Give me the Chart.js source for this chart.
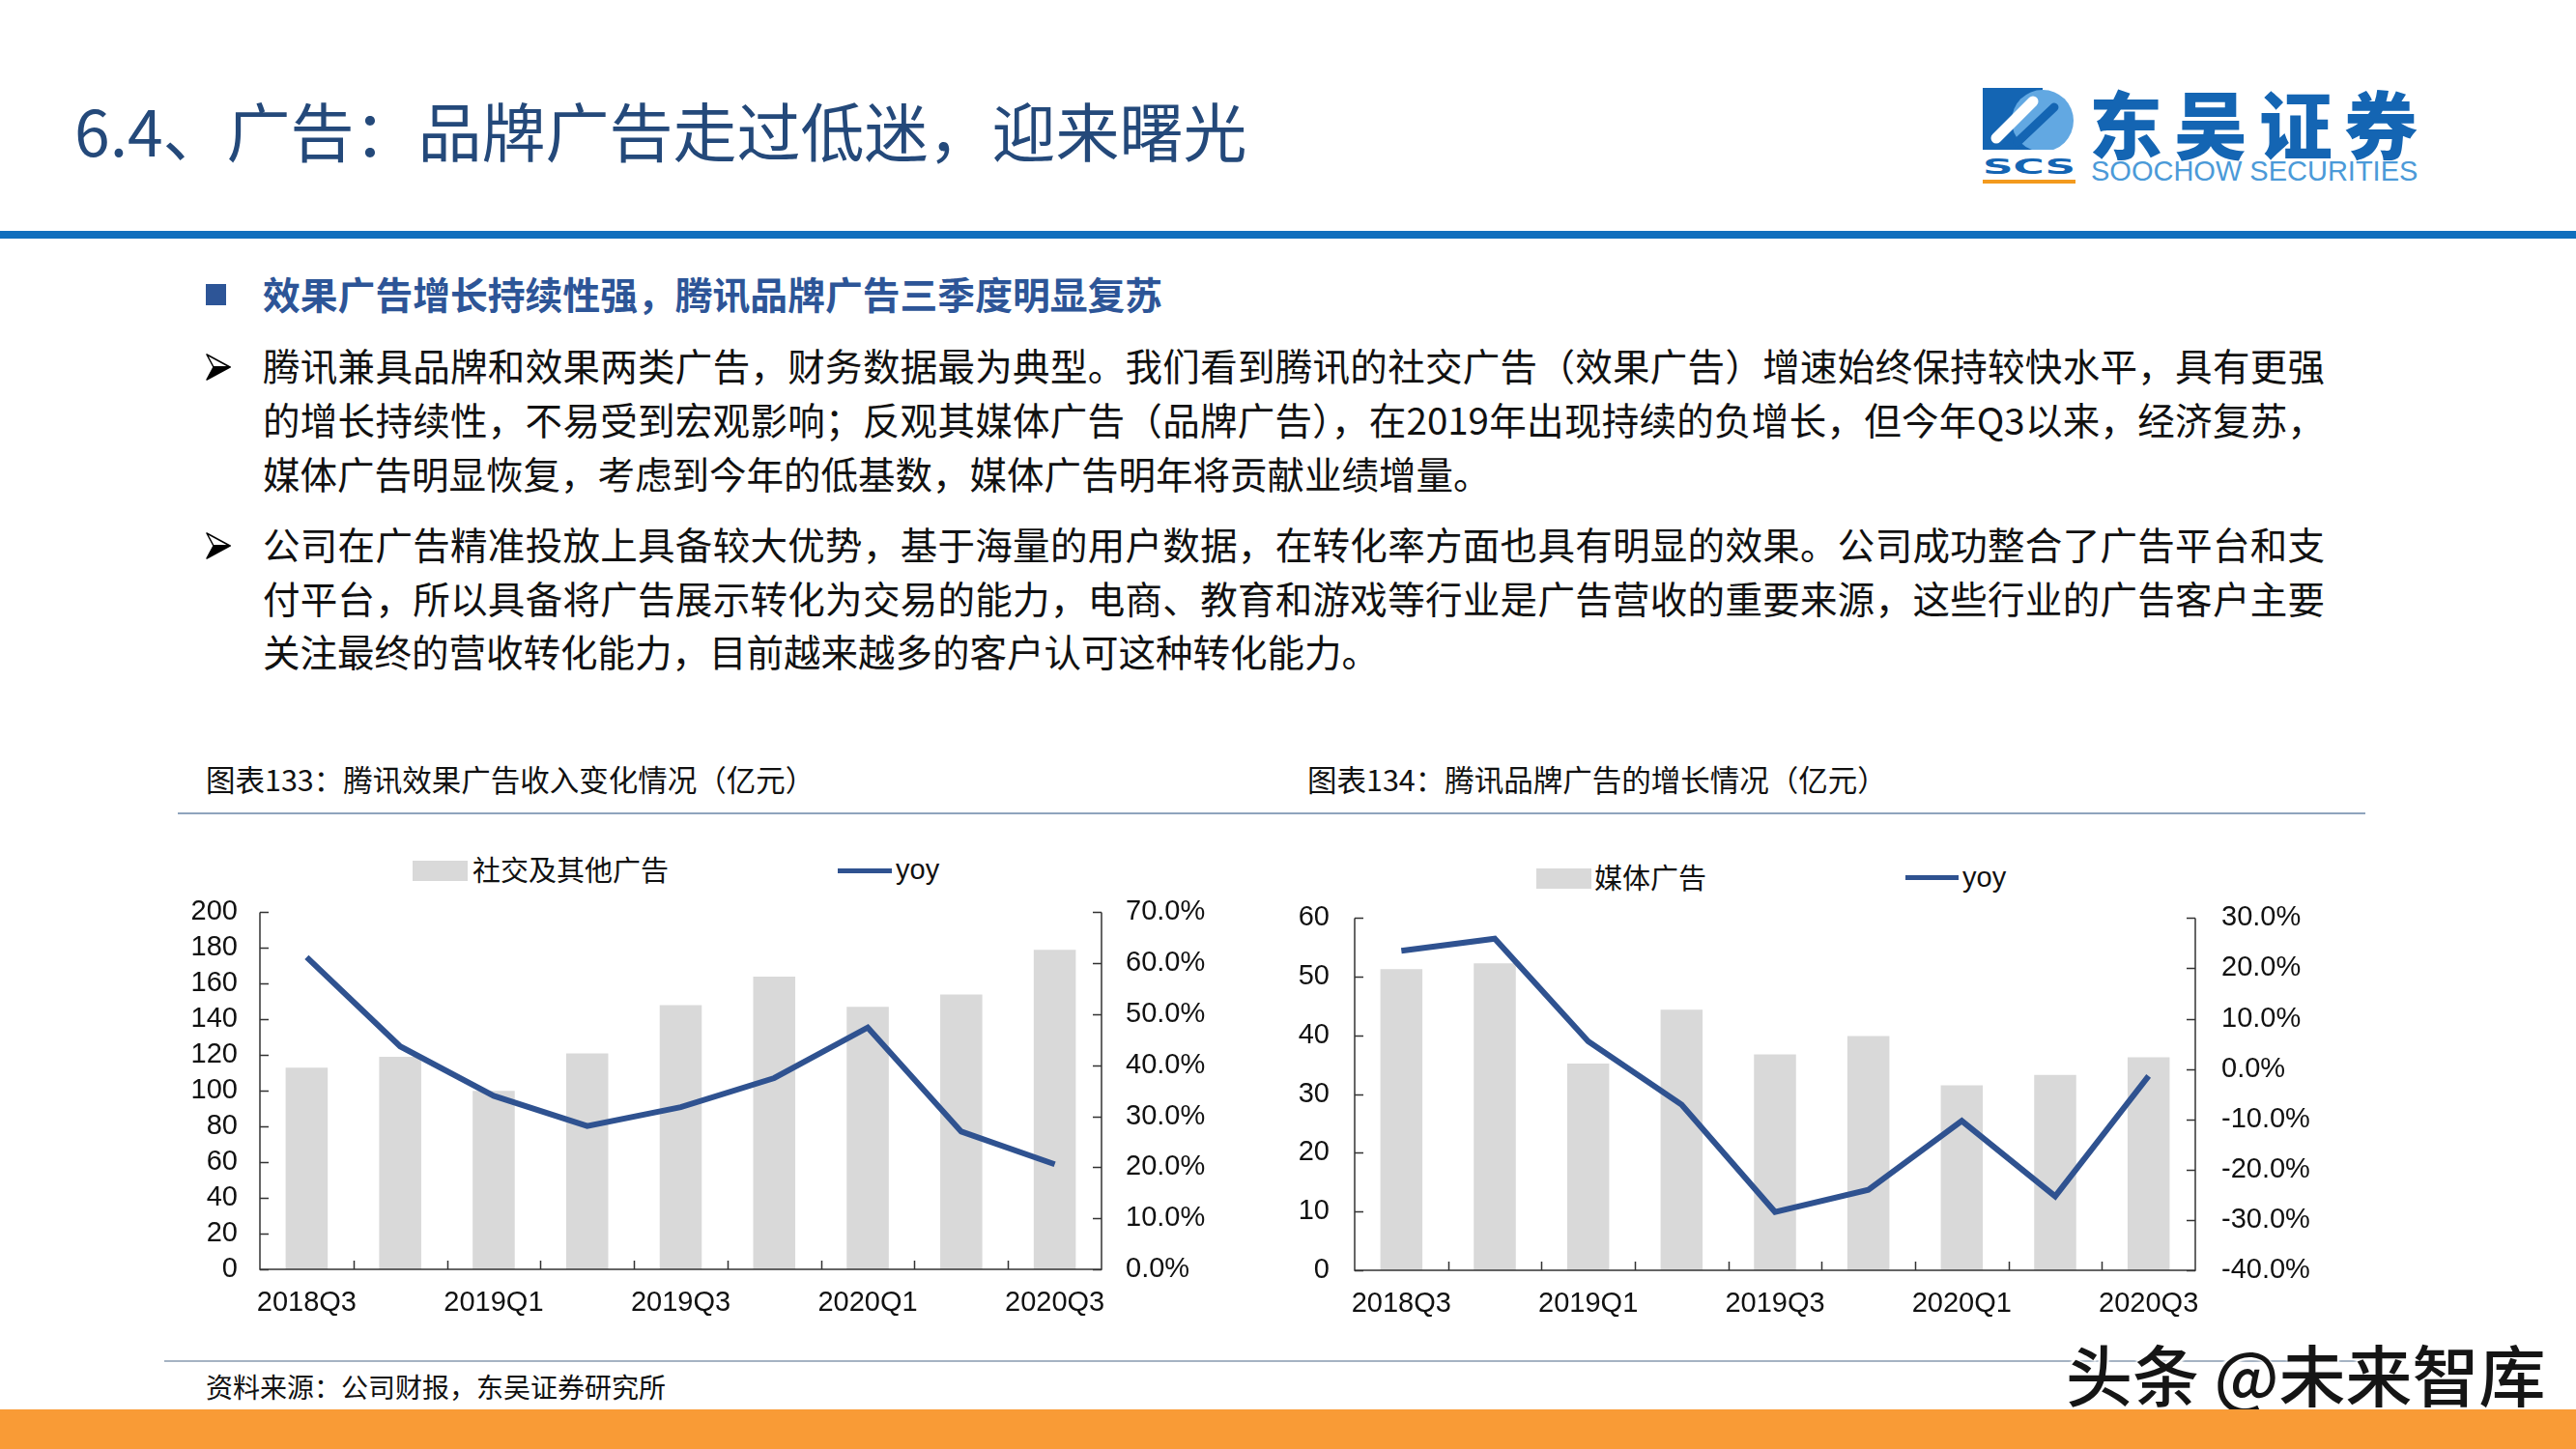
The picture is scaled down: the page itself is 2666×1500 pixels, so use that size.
<!DOCTYPE html>
<html>
<head>
<meta charset="utf-8">
<script src="https://cdn.jsdelivr.net/npm/chart.js@4.4.1/dist/chart.umd.min.js"></script>
<style>
  body { margin: 0; width: 2666px; height: 1500px; background: #fff; position: relative; overflow: hidden;
         font-family: "Noto Sans CJK SC", "Noto Sans", sans-serif; color: #111; }
  .t { position: absolute; white-space: nowrap; line-height: 1; }
  .line { position: absolute; left: 272px; width: 2134px; font-size: 38.5px; line-height: 1; height: 44px;
          text-align: justify; text-align-last: justify; white-space: nowrap; color: #111; }
  .line.last { text-align-last: left; }
  .arrow { position: absolute; left: 213px; }
  canvas { position: absolute; }
  .box { position: absolute; }
</style>
</head>
<body>

<!-- header -->
<div class="t" style="left:77px; top:100px; font-size:66px; color:#24497a;">6.4、广告：品牌广告走过低迷，迎来曙光</div>

<svg class="box" style="left:2052px; top:91px;" width="96" height="100" viewBox="0 0 96 100">
  <defs><clipPath id="c"><rect x="0" y="0" width="96" height="64"/></clipPath></defs>
  <g clip-path="url(#c)">
    <rect x="0" y="0" width="62" height="64" fill="#1465b3"/>
    <circle cx="62" cy="34" r="32" fill="#62a8e2"/>
    <line x1="14" y1="52" x2="52" y2="14" stroke="#fff" stroke-width="11" stroke-linecap="round"/>
    <line x1="36" y1="56" x2="74" y2="20" stroke="#1465b3" stroke-width="9" stroke-linecap="round"/>
  </g>
  <text x="0" y="89" textLength="96" lengthAdjust="spacingAndGlyphs" font-family="DejaVu Sans" font-weight="bold" font-size="22" fill="#1465b3">SCS</text>
  <rect x="0" y="95" width="96" height="4" fill="#f39a1e"/>
</svg>
<div class="t" style="left:2162px; top:88px; font-size:76px; font-weight:900; letter-spacing:12px; color:#1465b3;">东吴证券</div>
<div class="t" style="left:2164px; top:163px; font-size:29px; font-family:'Liberation Sans'; color:#4b9ad8;">SOOCHOW SECURITIES</div>

<div class="box" style="left:0; top:239px; width:2666px; height:8px; background:#0f6ebd;"></div>

<!-- text -->
<div class="box" style="left:213px; top:294px; width:21px; height:22px; background:#2d5597;"></div>
<div class="t" style="left:272px; top:284px; font-size:38.8px; font-weight:bold; color:#2d5597;">效果广告增长持续性强，腾讯品牌广告三季度明显复苏</div>

<svg class="arrow" style="top:366px;" width="26" height="28" viewBox="0 0 26 28">
  <polygon points="1,1 25,14 8,14" fill="#fff" stroke="#000" stroke-width="1.5" stroke-linejoin="round"/>
  <polygon points="1,27 25,14 8,14" fill="#000" stroke="#000" stroke-width="1.5" stroke-linejoin="round"/>
</svg>
<div class="line" style="top:358px;">腾讯兼具品牌和效果两类广告，财务数据最为典型。我们看到腾讯的社交广告（效果广告）增速始终保持较快水平，具有更强</div>
<div class="line" style="top:414px;">的增长持续性，不易受到宏观影响；反观其媒体广告（品牌广告），在2019年出现持续的负增长，但今年Q3以来，经济复苏，</div>
<div class="line last" style="top:470px;">媒体广告明显恢复，考虑到今年的低基数，媒体广告明年将贡献业绩增量。</div>

<svg class="arrow" style="top:551px;" width="26" height="28" viewBox="0 0 26 28">
  <polygon points="1,1 25,14 8,14" fill="#fff" stroke="#000" stroke-width="1.5" stroke-linejoin="round"/>
  <polygon points="1,27 25,14 8,14" fill="#000" stroke="#000" stroke-width="1.5" stroke-linejoin="round"/>
</svg>
<div class="line" style="top:543px;">公司在广告精准投放上具备较大优势，基于海量的用户数据，在转化率方面也具有明显的效果。公司成功整合了广告平台和支</div>
<div class="line" style="top:599px;">付平台，所以具备将广告展示转化为交易的能力，电商、教育和游戏等行业是广告营收的重要来源，这些行业的广告客户主要</div>
<div class="line last" style="top:654px;">关注最终的营收转化能力，目前越来越多的客户认可这种转化能力。</div>

<!-- chart titles -->
<div class="t" style="left:213px; top:791px; font-size:30.5px;">图表133：腾讯效果广告收入变化情况（亿元）</div>
<div class="t" style="left:1353px; top:791px; font-size:30.5px;">图表134：腾讯品牌广告的增长情况（亿元）</div>
<div class="box" style="left:184px; top:841px; width:2264px; height:2px; background:#8fa4bd;"></div>

<!-- legends -->
<div class="box" style="left:427px; top:891px; width:57px; height:21px; background:#d9d9d9;"></div>
<div class="t" style="left:489px; top:885px; font-size:29px;">社交及其他广告</div>
<div class="box" style="left:867px; top:899px; width:56px; height:5px; background:#2f5290;"></div>
<div class="t" style="left:927px; top:886px; font-size:29px; font-family:'Liberation Sans';">yoy</div>

<div class="box" style="left:1590px; top:899px; width:57px; height:21px; background:#d9d9d9;"></div>
<div class="t" style="left:1650px; top:893px; font-size:29px;">媒体广告</div>
<div class="box" style="left:1972px; top:906px; width:55px; height:5px; background:#2f5290;"></div>
<div class="t" style="left:2031px; top:894px; font-size:29px; font-family:'Liberation Sans';">yoy</div>

<canvas id="socialChart" width="1100" height="472" style="left:180px; top:902px;"></canvas>
<canvas id="mediaChart" width="1110" height="469" style="left:1310px; top:906px;"></canvas>

<!-- footer -->
<div class="box" style="left:170px; top:1408px; width:2274px; height:2px; background:#a5b3c3;"></div>
<div class="t" style="left:213px; top:1421px; font-size:28px;">资料来源：公司财报，东吴证券研究所</div>
<div class="t" style="left:2138px; top:1387px; font-size:69px; font-weight:500; color:#151515; text-shadow:0 0 3px #fff, 2px 2px 2px #fff, -2px -2px 2px #fff;">头条 @未来智库</div>
<div class="box" style="left:0; top:1459px; width:2666px; height:41px; background:#f99b36;"></div>

<script>
// quarters on the x axis (every other one is labelled)
const quarters = ['2018Q3', '2018Q4', '2019Q1', '2019Q2', '2019Q3', '2019Q4', '2020Q1', '2020Q2', '2020Q3'];

// 图表133: social & other ads, 亿元 and yoy %
const socialAdRevenue = [113, 119, 100, 121, 148, 164, 147, 154, 179];
const socialAdYoy = [61.2, 43.7, 34.0, 28.1, 31.8, 37.5, 47.4, 27.0, 20.6];

// 图表134: media ads, 亿元 and yoy %
const mediaAdRevenue = [51.3, 52.3, 35.2, 44.4, 36.8, 39.9, 31.5, 33.3, 36.3];
const mediaAdYoy = [23.5, 25.9, 5.5, -7.1, -28.4, -24.0, -10.3, -25.3, -1.4];

// axis ranges [min, max, step]
const socialLeftAxis = [0, 200, 20];
const socialRightAxis = [0, 70, 10];
const mediaLeftAxis = [0, 60, 10];
const mediaRightAxis = [-40, 30, 10];

const barColor = '#d9d9d9';
const lineColor = '#2f5290';
const tickFont = { family: 'Liberation Sans', size: 29 };

// axis lines + the short inside tick marks
const axisTicks = {
    id: 'axisTicks',
    afterDatasetsDraw(chart) {
        const { ctx, chartArea: a, scales } = chart;
        ctx.save();
        ctx.strokeStyle = '#333';
        ctx.lineWidth = 1.5;
        ctx.beginPath();
        ctx.moveTo(a.left, a.top);
        ctx.lineTo(a.left, a.bottom);
        ctx.lineTo(a.right, a.bottom);
        ctx.lineTo(a.right, a.top);
        scales.y.ticks.forEach(t => {
            const py = Math.round(scales.y.getPixelForValue(t.value)) + 0.5;
            ctx.moveTo(a.left, py);
            ctx.lineTo(a.left + 9, py);
        });
        scales.y1.ticks.forEach(t => {
            const py = Math.round(scales.y1.getPixelForValue(t.value)) + 0.5;
            ctx.moveTo(a.right - 9, py);
            ctx.lineTo(a.right, py);
        });
        const n = chart.data.labels.length;
        for (let i = 1; i < n; i++) {
            const px = Math.round((scales.x.getPixelForValue(i - 1) + scales.x.getPixelForValue(i)) / 2) + 0.5;
            ctx.moveTo(px, a.bottom);
            ctx.lineTo(px, a.bottom - 9);
        }
        ctx.stroke();
        ctx.restore();
    }
};

function makeChart(id, bars, yoy, left, right, sizes) {
    return new Chart(document.getElementById(id), {
        type: 'bar',
        data: {
            labels: quarters,
            datasets: [
                {
                    type: 'line',
                    data: yoy,
                    yAxisID: 'y1',
                    borderColor: lineColor,
                    borderWidth: 6,
                    pointRadius: 0,
                    tension: 0,
                    order: 1
                },
                {
                    data: bars,
                    yAxisID: 'y',
                    backgroundColor: barColor,
                    categoryPercentage: 1,
                    barPercentage: 0.45,
                    order: 2
                }
            ]
        },
        options: {
            responsive: false,
            animation: false,
            layout: { padding: { top: 20, left: 0, right: 0, bottom: 0 } },
            plugins: { legend: { display: false }, tooltip: { enabled: false } },
            scales: {
                x: {
                    offset: true,
                    grid: { display: false, drawTicks: false },
                    border: { display: false },
                    ticks: {
                        autoSkip: false, maxRotation: 0, padding: 18, color: '#111', font: tickFont,
                        callback: function (v, i) { return i % 2 === 0 ? this.getLabelForValue(v) : ''; }
                    },
                    afterFit(s) { s.height = 60; }
                },
                y: {
                    position: 'left',
                    min: left[0], max: left[1],
                    grid: { display: false, drawTicks: false },
                    border: { display: false },
                    ticks: { stepSize: left[2], autoSkip: false, padding: sizes.lp, color: '#111', font: tickFont },
                    afterFit(s) { s.width = sizes.lw; }
                },
                y1: {
                    position: 'right',
                    min: right[0], max: right[1],
                    grid: { display: false, drawTicks: false },
                    border: { display: false },
                    ticks: {
                        stepSize: right[2], autoSkip: false, padding: sizes.rp, color: '#111', font: tickFont,
                        callback: v => v.toFixed(1) + '%'
                    },
                    afterFit(s) { s.width = sizes.rw; }
                }
            }
        },
        plugins: [axisTicks]
    });
}

makeChart('socialChart', socialAdRevenue, socialAdYoy, socialLeftAxis, socialRightAxis,
    { lw: 89, lp: 23, rw: 140, rp: 25 });
makeChart('mediaChart', mediaAdRevenue, mediaAdYoy, mediaLeftAxis, mediaRightAxis,
    { lw: 92, lp: 26, rw: 148, rp: 27 });
</script>
</body>
</html>
